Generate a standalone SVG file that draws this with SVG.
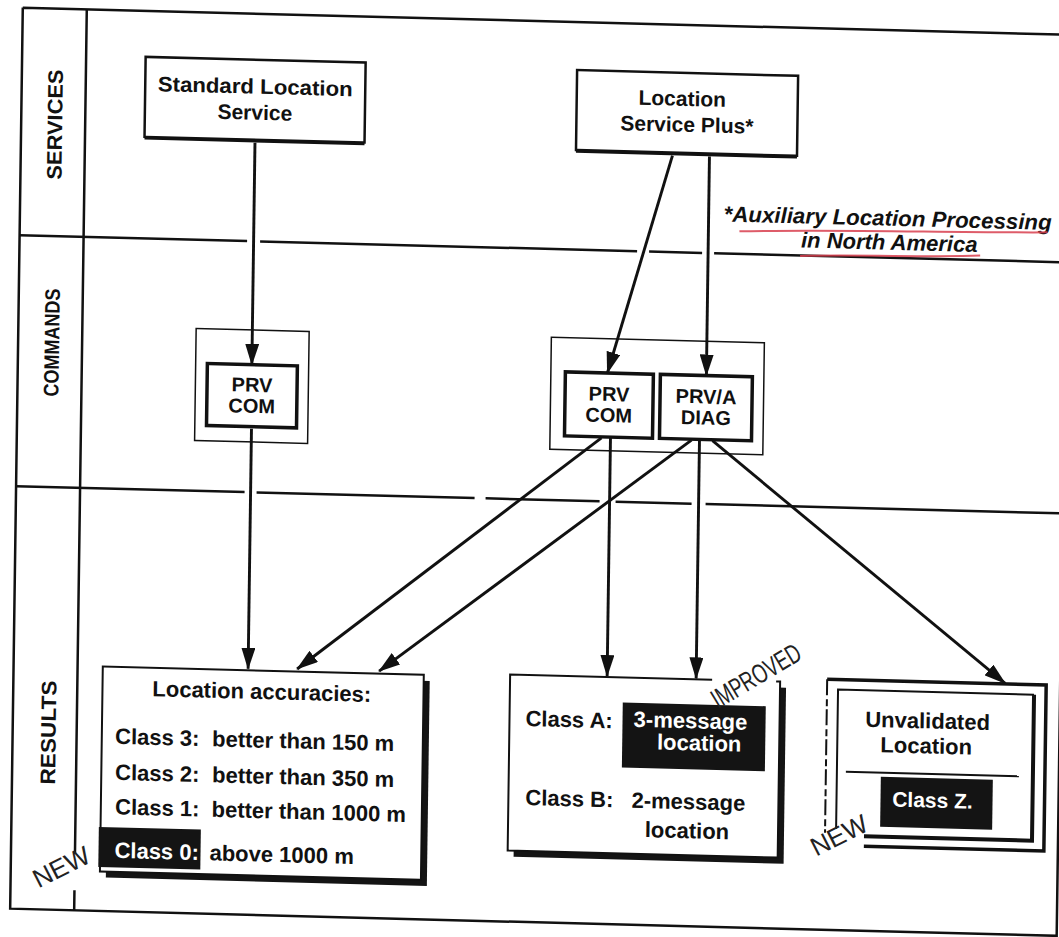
<svg xmlns="http://www.w3.org/2000/svg" width="1059" height="937" viewBox="0 0 1059 937">
<defs>
<style>
.t{font-family:"Liberation Sans",Arial,sans-serif;font-weight:bold;fill:#111}
.w{fill:#fff}
.m{text-anchor:middle}
.ln{stroke:#111;stroke-width:2.5;fill:none}
.thin{stroke:#111;stroke-width:1.5;fill:#fff}
.thick{stroke:#111;stroke-width:3.5;fill:#fff}
.blk{fill:#141414}
.c{stroke:#111;stroke-width:2.9;fill:none;marker-end:url(#ah)}
.lab{font-family:"Liberation Sans",Arial,sans-serif;font-weight:bold;font-size:21px;fill:#111;text-anchor:middle}
.new{font-family:"Liberation Sans",Arial,sans-serif;font-size:26px;fill:#222;text-anchor:middle}
</style>
<marker id="ah" markerUnits="userSpaceOnUse" markerWidth="22" markerHeight="14" refX="21" refY="7" orient="auto">
<path d="M0,0 L22,7 L0,14 z" fill="#111"/>
</marker>
</defs>
<rect x="0" y="0" width="1059" height="937" fill="#fff"/>
<g transform="matrix(1 0.026 -0.014 1 6.58 -13.78)">
<g id="frame">
<path class="ln" d="M16.5 21 L1063 21 M16.5 21 L16.5 922 L1063 922 L1063 21"/>
<path class="ln" d="M80.5 21 L80.5 865 M80.5 902 L80.5 922"/>
<path class="ln" d="M16.5 248.5 L244 248.5 M257 248.5 L634 248.5 M646 248.5 L699 248.5 M711 248.5 L1063 248.5"/>
<path class="ln" d="M16.5 499.5 L245 499.5 M257 499.5 L475 499.5 M486 499.5 L600 499.5 M616 499.5 L692 499.5 M706 499.5 L1063 499.5"/>
<text class="lab" transform="translate(50,137) rotate(-90)" y="7.5" textLength="110" lengthAdjust="spacingAndGlyphs">SERVICES</text>
<text class="lab" transform="translate(50,355) rotate(-90)" y="7.5" textLength="108" lengthAdjust="spacingAndGlyphs">COMMANDS</text>
<text class="lab" transform="translate(52,745) rotate(-90)" y="7.5" textLength="104" lengthAdjust="spacingAndGlyphs">RESULTS</text>
</g>
<g id="std-service">
<rect x="140" y="67" width="220" height="80" fill="#fff" stroke="#111" stroke-width="2.5"/>
<line x1="140" y1="148.5" x2="360" y2="148.5" stroke="#111" stroke-width="2.5"/>
<text class="t m" x="250" y="101" font-size="21" textLength="195" lengthAdjust="spacingAndGlyphs">Standard Location</text>
<text class="t m" x="250" y="127" font-size="21">Service</text>
</g>
<g id="lsp-service">
<rect x="571.5" y="69" width="221" height="80" fill="#fff" stroke="#111" stroke-width="2.5"/>
<line x1="571.5" y1="150.5" x2="792.5" y2="150.5" stroke="#111" stroke-width="2.5"/>
<text class="t m" x="677" y="102" font-size="21">Location</text>
<text class="t m" x="682" y="128" font-size="21">Service Plus*</text>
</g>
<g id="footnote">
<text class="t m" x="884" y="216.5" font-size="22" font-style="italic" textLength="328" lengthAdjust="spacingAndGlyphs">*Auxiliary Location Processing</text>
<text class="t m" x="886" y="240.5" font-size="22" font-style="italic">in North America</text>
<path d="M736 226 C 830 221, 950 222, 1044 219" stroke="#d8404f" stroke-width="2" fill="none" opacity="0.85"/>
<path d="M797 249 C 860 246, 930 247, 977 244" stroke="#d8404f" stroke-width="2" fill="none" opacity="0.85"/>
</g>
<g id="cmd-left">
<rect class="thin" x="194.3" y="337.2" width="113" height="112"/>
<rect class="thick" x="206" y="372" width="90" height="62"/>
<text class="t m" x="251" y="399" font-size="20">PRV</text>
<text class="t m" x="251" y="420" font-size="20">COM</text>
</g>
<g id="cmd-right">
<rect class="thin" x="549.5" y="336.7" width="213" height="112"/>
<g id="cmd-prv-com">
<rect class="thick" x="564" y="371" width="88" height="64"/>
<text class="t m" x="608" y="399" font-size="20">PRV</text>
<text class="t m" x="608" y="420" font-size="20">COM</text>
</g>
<g id="cmd-prv-diag">
<rect class="thick" x="659" y="371" width="92" height="64"/>
<text class="t m" x="705" y="399" font-size="20">PRV/A</text>
<text class="t m" x="705" y="420" font-size="20">DIAG</text>
</g>
</g>
<g id="connectors">
<path class="c" d="M250.5 150 L250.5 372"/>
<path class="c" d="M251 436 L251 676"/>
<path class="c" d="M668 152 L606 371"/>
<path class="c" d="M705 152 L705 371"/>
<path class="c" d="M601 436 L300 675"/>
<path class="c" d="M691 436 L382 675"/>
<path class="c" d="M610 436 L610 674"/>
<path class="c" d="M699 436 L699 674"/>
<path class="c" d="M712 436 L1008 671"/>
</g>
<g id="res-accuracies">
<rect class="blk" x="111.7" y="683.5" width="321" height="205"/>
<rect x="105.7" y="677.5" width="321" height="205" fill="#fff" stroke="#111" stroke-width="2"/>
<text class="t m" x="265" y="706" font-size="22">Location accuracies:</text>
<text class="t" x="119" y="754.5" font-size="22">Class 3:</text>
<text class="t" x="216" y="754.5" font-size="22">better than 150 m</text>
<text class="t" x="119.5" y="790.5" font-size="22">Class 2:</text>
<text class="t" x="216.5" y="790.5" font-size="22">better than 350 m</text>
<text class="t" x="120" y="825" font-size="22">Class 1:</text>
<text class="t" x="216.5" y="825" font-size="22">better than 1000 m</text>
<rect class="blk" x="104" y="838" width="102" height="40"/>
<text class="t w" x="120" y="868.5" font-size="22">Class 0:</text>
<text class="t" x="215" y="868.5" font-size="22">above 1000 m</text>
<text class="new" transform="translate(67,879) rotate(-28)" y="9">NEW</text>
</g>
<g id="res-classab">
<rect class="blk" x="519" y="681" width="270" height="176"/>
<rect x="513" y="675" width="270" height="176" fill="#fff"/>
<path d="M715 675 L513 675 L513 851 L783 851 L783 675 L779 675" stroke="#111" stroke-width="2" fill="none"/>
<text class="t" x="529" y="726" font-size="22">Class A:</text>
<rect class="blk" x="626" y="700" width="143" height="65"/>
<text class="t w m" x="694" y="724" font-size="22">3-message</text>
<text class="t w m" x="703" y="746" font-size="22">location</text>
<text class="t" x="530" y="805" font-size="22">Class B:</text>
<text class="t m" x="693" y="805" font-size="22">2-message</text>
<text class="t m" x="692" y="834" font-size="22">location</text>
<text transform="translate(759,670) rotate(-32)" y="9" font-family="Liberation Sans, Arial, sans-serif" font-size="27" fill="#222" text-anchor="middle" textLength="100" lengthAdjust="spacingAndGlyphs">IMPROVED</text>
</g>
<g id="res-unvalidated">
<rect x="830" y="671.5" width="219" height="166" fill="#fff"/>
<path d="M830 671.5 L1049 671.5 L1049 837.5 L869 837.5" stroke="#111" stroke-width="3.5" fill="none"/>
<path d="M830 671.5 L830 825" stroke="#111" stroke-width="2" stroke-dasharray="16 4 7 3" fill="none"/>
<path d="M841 821 L841 681.5 L1037 681.5" stroke="#111" stroke-width="2" fill="none"/>
<path d="M1037 681.5 L1037 827.5 L869 827.5" stroke="#111" stroke-width="4" fill="none"/>
<text class="t m" x="931" y="718" font-size="22">Unvalidated</text>
<text class="t m" x="930" y="743" font-size="22">Location</text>
<line x1="850" y1="763.5" x2="1023" y2="763.5" stroke="#111" stroke-width="2"/>
<rect class="blk" x="885" y="767.5" width="112" height="50"/>
<text class="t w m" x="937" y="797" font-size="21">Class Z.</text>
<text class="new" transform="translate(844,827) rotate(-28)" y="9">NEW</text>
</g>
</g>
</svg>
